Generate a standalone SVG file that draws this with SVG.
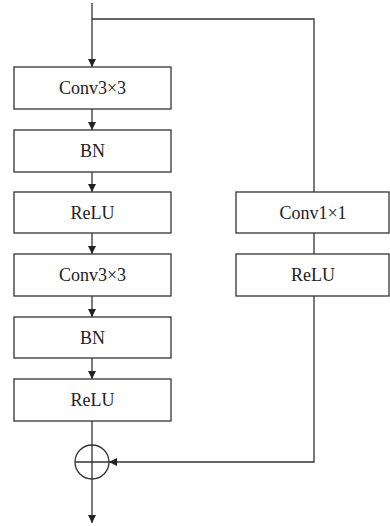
<svg xmlns="http://www.w3.org/2000/svg" width="390" height="526" viewBox="0 0 390 526">
<style>
.box{fill:#fff;stroke:#333;stroke-width:1.3}
.lbl{font-family:"Liberation Serif","Times New Roman",serif;font-size:18px;fill:#222;text-anchor:middle}
.ln{fill:none;stroke:#333;stroke-width:1.3}
</style>
<defs>
<marker id="ah" viewBox="0 0 10 10" refX="10" refY="5" markerWidth="8" markerHeight="8" markerUnits="userSpaceOnUse" orient="auto">
<path d="M0,0 L10,5 L0,10 z" fill="#222"/>
</marker>
</defs>
<g id="connectors">
<line class="ln" x1="92" y1="3" x2="92" y2="67" marker-end="url(#ah)"/>
<polyline class="ln" points="92,19 314,19 314,192"/>
<line class="ln" x1="92" y1="109" x2="92" y2="130" marker-end="url(#ah)"/>
<line class="ln" x1="92" y1="172" x2="92" y2="192" marker-end="url(#ah)"/>
<line class="ln" x1="92" y1="233" x2="92" y2="254" marker-end="url(#ah)"/>
<line class="ln" x1="92" y1="296" x2="92" y2="317" marker-end="url(#ah)"/>
<line class="ln" x1="92" y1="358" x2="92" y2="379" marker-end="url(#ah)"/>
<line class="ln" x1="92" y1="421" x2="92" y2="445"/>
<line class="ln" x1="314" y1="233" x2="314" y2="254"/>
<polyline class="ln" points="314,296 314,462 109,462" marker-end="url(#ah)"/>
<line class="ln" x1="92" y1="479" x2="92" y2="523" marker-end="url(#ah)"/>
</g>
<g id="conv1"><rect class="box" x="14" y="67" width="157" height="42"/><text class="lbl" x="92.5" y="94">Conv3×3</text></g>
<g id="bn1"><rect class="box" x="14" y="130" width="157" height="42"/><text class="lbl" x="92.5" y="157">BN</text></g>
<g id="relu1"><rect class="box" x="14" y="192" width="157" height="41"/><text class="lbl" x="92.5" y="219">ReLU</text></g>
<g id="conv2"><rect class="box" x="14" y="254" width="157" height="42"/><text class="lbl" x="92.5" y="281">Conv3×3</text></g>
<g id="bn2"><rect class="box" x="14" y="317" width="157" height="41"/><text class="lbl" x="92.5" y="344">BN</text></g>
<g id="relu2"><rect class="box" x="14" y="379" width="157" height="42"/><text class="lbl" x="92.5" y="406">ReLU</text></g>
<g id="conv1x1"><rect class="box" x="236" y="192" width="153" height="41"/><text class="lbl" x="313" y="219">Conv1×1</text></g>
<g id="relu3"><rect class="box" x="236" y="254" width="153" height="42"/><text class="lbl" x="313" y="281">ReLU</text></g>
<g id="add">
<circle class="ln" cx="92" cy="462" r="17"/>
<line class="ln" x1="75" y1="462" x2="109" y2="462"/>
<line class="ln" x1="92" y1="445" x2="92" y2="479"/>
</g>
</svg>
